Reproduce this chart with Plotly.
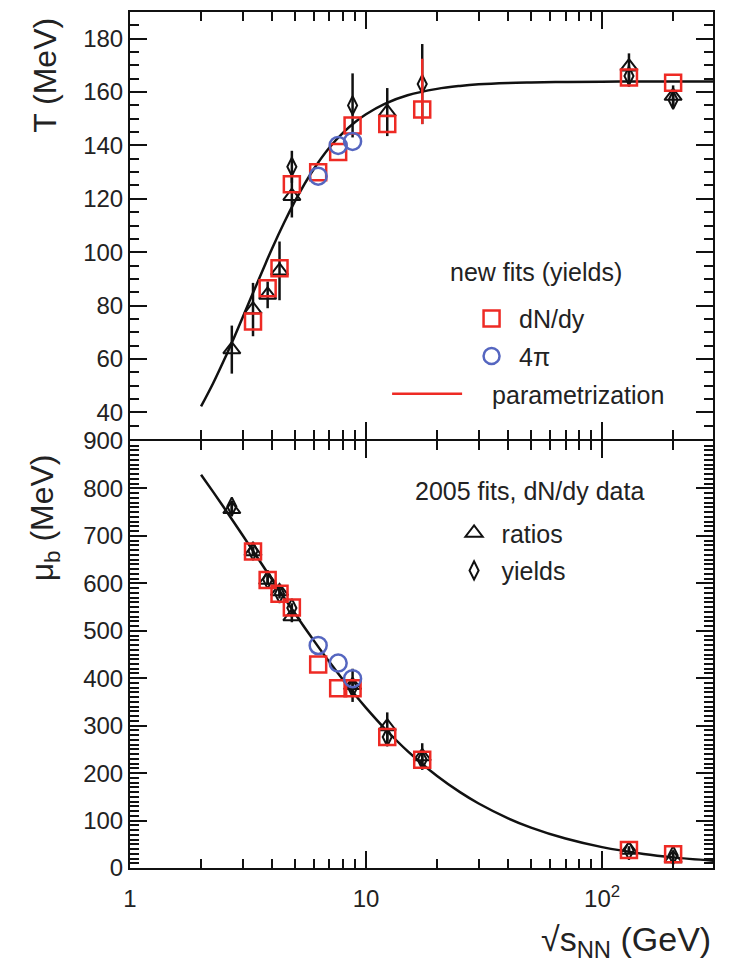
import plotly.graph_objects as go
from plotly.subplots import make_subplots

# ---------------- data ----------------
# collision energies sqrt(s_NN) in GeV
s_new = [3.32, 3.83, 4.3, 4.85, 6.27, 7.62, 8.77, 12.3, 17.3, 130, 200]
T_new = [74, 86.5, 94, 125.5, 130, 137.5, 147.5, 148, 153.5, 165.5, 163.5]
T_new_ep = [0, 0, 0, 0, 0, 0, 0, 0, 19, 0, 0]
T_new_em = [0, 0, 0, 0, 0, 0, 0, 0, 5.5, 0, 0]
mu_new = [667, 607, 578, 549, 429, 379, 379, 276, 228, 38, 29]

s_4pi = [6.27, 7.62, 8.77]
T_4pi = [128.5, 140, 141.5]
mu_4pi = [469, 432, 399]

s_rat_T = [2.7, 3.32, 3.83, 4.3, 4.85, 12.3, 130, 200]
T_rat = [63.5, 78.5, 84, 93, 121, 152.5, 169.5, 158.5]
T_rat_err = [9, 10, 5, 11, 8, 9, 5, 4]

s_yld_T = [4.85, 8.77, 17.3, 130, 200]
T_yld = [132, 155, 163, 166, 157]
T_yld_err = [6, 12, 15, 4, 3]

s_rat_mu = [2.7, 3.32, 3.83, 4.3, 4.85, 8.77, 12.3, 17.3, 130, 200]
mu_rat = [756, 667, 607, 583, 530, 385, 298, 235, 38, 20]
mu_rat_err = [15, 10, 10, 10, 12, 35, 30, 28, 8, 8]

s_yld_mu = [2.7, 3.32, 3.83, 4.3, 4.85, 8.77, 12.3, 17.3, 130, 200]
mu_yld = [762, 668, 608, 578, 548, 380, 276, 228, 37, 27]
mu_yld_err = [12, 10, 10, 10, 10, 15, 15, 15, 6, 6]

# parametrization curves
s_curve = [2, 2.25, 2.5, 2.75, 3, 3.25, 3.5, 3.75, 4, 4.5, 5, 5.5, 6, 7, 8, 9, 10,
           12, 15, 20, 25, 30, 40, 50, 70, 100, 150, 200, 300]
T_curve = [42.2, 50.9, 59.5, 67.7, 75.5, 82.8, 89.5, 95.7, 101.4, 111.1, 119.1, 125.7,
           131.1, 139.2, 144.8, 148.8, 151.7, 155.6, 158.8, 161.2, 162.3, 162.9, 163.4,
           163.6, 163.8, 163.9, 164.0, 164.0, 164.0]
mu_curve = [828.9, 792.8, 759.8, 729.4, 701.3, 675.3, 651.2, 628.7, 607.7, 569.7, 536.2,
            506.4, 479.8, 434.0, 396.3, 364.6, 337.6, 294.0, 246.3, 193.9, 159.9, 136.0,
            104.7, 85.2, 62.0, 44.0, 29.7, 22.4, 15.0]

x_tickvals = [1, 10, 100]
x_ticktext = ["1", "10", "10<sup>2</sup>"]
x_minor = [2, 3, 4, 5, 6, 7, 8, 9, 20, 30, 40, 50, 60, 70, 80, 90, 200]

# ---------------- styling ----------------
RED = "#ee2a24"
BLUE = "#5566c0"
BLACK = "#111111"
FONT = "Liberation Sans, Arial, Helvetica, sans-serif"
TXT = "#222222"

fig = make_subplots(rows=2, cols=1, shared_xaxes=True, vertical_spacing=0)


def eb(arr, arrm=None, color=BLACK):
    d = dict(type="data", array=arr, color=color, thickness=2.5, width=0, visible=True)
    if arrm is not None:
        d["symmetric"] = False
        d["arrayminus"] = arrm
    return d


# ---- top panel ----
fig.add_trace(go.Scatter(x=s_curve, y=T_curve, mode="lines", line=dict(color=BLACK, width=2.5, shape="spline"),
                         showlegend=False, hoverinfo="skip"), row=1, col=1)
fig.add_trace(go.Scatter(x=s_rat_T, y=T_rat, mode="markers", error_y=eb(T_rat_err),
                         marker=dict(symbol="triangle-up-open", size=15, color=BLACK, line=dict(width=2, color=BLACK)),
                         showlegend=False), row=1, col=1)
fig.add_trace(go.Scatter(x=s_yld_T, y=T_yld, mode="markers", error_y=eb(T_yld_err),
                         marker=dict(symbol="diamond-tall-open", size=13, color=BLACK, line=dict(width=2, color=BLACK)),
                         showlegend=False), row=1, col=1)
fig.add_trace(go.Scatter(x=s_new, y=T_new, mode="markers", name="dN/dy", legend="legend", legendgroup="a",
                         error_y=eb(T_new_ep, T_new_em, RED),
                         marker=dict(symbol="square-open", size=16, color=RED, line=dict(width=2.5, color=RED))),
              row=1, col=1)
fig.add_trace(go.Scatter(x=s_4pi, y=T_4pi, mode="markers", name="4π", legend="legend", legendgroup="b",
                         marker=dict(symbol="circle-open", size=17, color=BLUE, line=dict(width=2.5, color=BLUE))),
              row=1, col=1)
fig.add_trace(go.Scatter(x=[None], y=[None], mode="lines", name="\u2002\u2002parametrization", legend="legend3",
                         legendgroup="c", line=dict(color=RED, width=2.5)), row=1, col=1)

# ---- bottom panel ----
fig.add_trace(go.Scatter(x=s_curve, y=mu_curve, mode="lines", line=dict(color=BLACK, width=2.5, shape="spline"),
                         showlegend=False, hoverinfo="skip"), row=2, col=1)
fig.add_trace(go.Scatter(x=s_rat_mu, y=mu_rat, mode="markers", name="ratios", legend="legend2", legendgroup="d",
                         error_y=eb(mu_rat_err),
                         marker=dict(symbol="triangle-up-open", size=15, color=BLACK, line=dict(width=2, color=BLACK))),
              row=2, col=1)
fig.add_trace(go.Scatter(x=s_yld_mu, y=mu_yld, mode="markers", name="yields", legend="legend2", legendgroup="e",
                         error_y=eb(mu_yld_err),
                         marker=dict(symbol="diamond-tall-open", size=13, color=BLACK, line=dict(width=2, color=BLACK))),
              row=2, col=1)
fig.add_trace(go.Scatter(x=s_new, y=mu_new, mode="markers", showlegend=False,
                         marker=dict(symbol="square-open", size=16, color=RED, line=dict(width=2.5, color=RED))),
              row=2, col=1)
fig.add_trace(go.Scatter(x=s_4pi, y=mu_4pi, mode="markers", showlegend=False,
                         marker=dict(symbol="circle-open", size=17, color=BLUE, line=dict(width=2.5, color=BLUE))),
              row=2, col=1)

axis_common = dict(showline=True, linecolor=BLACK, linewidth=2, mirror="allticks", ticks="inside",
                   ticklen=17, tickwidth=2, tickcolor=BLACK, showgrid=False, zeroline=False, automargin=False,
                   tickfont=dict(size=24, family=FONT, color=TXT))

for r in (1, 2):
    fig.update_xaxes(type="log", range=[0, 2.47], tickmode="array", tickvals=x_tickvals, ticktext=x_ticktext,
                     ticklabelstandoff=8,
                     minor=dict(tickmode="array", tickvals=x_minor, ticks="inside", ticklen=9, tickwidth=2,
                                tickcolor=BLACK, showgrid=False),
                     **axis_common, row=r, col=1)
fig.update_xaxes(showticklabels=False, row=1, col=1)

gap = 1.0 / 856
fig.update_yaxes(range=[30, 190], tick0=0, dtick=20, domain=[0.5 + gap, 1],
                 minor=dict(dtick=5, ticks="inside", ticklen=9, tickwidth=2, tickcolor=BLACK, showgrid=False),
                 **axis_common, row=1, col=1)
fig.update_yaxes(range=[0, 900], tick0=0, dtick=100, domain=[0, 0.5 - gap],
                 minor=dict(dtick=10, ticks="inside", ticklen=9, tickwidth=2, tickcolor=BLACK, showgrid=False),
                 **axis_common, row=2, col=1)

leg_common = dict(xanchor="left", yanchor="top", bgcolor="rgba(0,0,0,0)",
                  font=dict(size=25, family=FONT, color=TXT), tracegroupgap=2)

fig.update_layout(
    width=730, height=972,
    margin=dict(l=122, r=25, t=4, b=112),
    plot_bgcolor="white", paper_bgcolor="white",
    font=dict(family=FONT, size=24, color=TXT),
    legend=dict(x=0.573, y=0.6685, itemwidth=45, **leg_common),
    legend2=dict(x=0.543, y=0.418, itemwidth=45, **leg_common),
    legend3=dict(x=0.441, y=0.5805, itemwidth=70, **leg_common),
    annotations=[
        dict(text="new fits (yields)", xref="paper", yref="paper", x=0.696, y=0.696, showarrow=False,
             xanchor="center", yanchor="middle", font=dict(size=25, family=FONT, color=TXT)),
        dict(text="2005 fits, dN/dy data", xref="paper", yref="paper", x=0.686, y=0.441, showarrow=False,
             xanchor="center", yanchor="middle", font=dict(size=25, family=FONT, color=TXT)),
        dict(text="T (MeV)", xref="paper", yref="paper", x=-0.146, y=0.996, showarrow=False, textangle=-90,
             xanchor="center", yanchor="top", font=dict(size=32, family=FONT, color=TXT)),
        dict(text="μ<sub>b</sub> (MeV)", xref="paper", yref="paper", x=-0.146, y=0.486, showarrow=False,
             textangle=-90, xanchor="center", yanchor="top", font=dict(size=32, family=FONT, color=TXT)),
        dict(text="√s<sub>NN</sub> (GeV)", xref="paper", yref="paper", x=1.0, y=-0.0864, showarrow=False,
             xanchor="right", yanchor="middle", font=dict(size=34, family=FONT, color=TXT)),
    ],
)

fig.write_html("out.html")
